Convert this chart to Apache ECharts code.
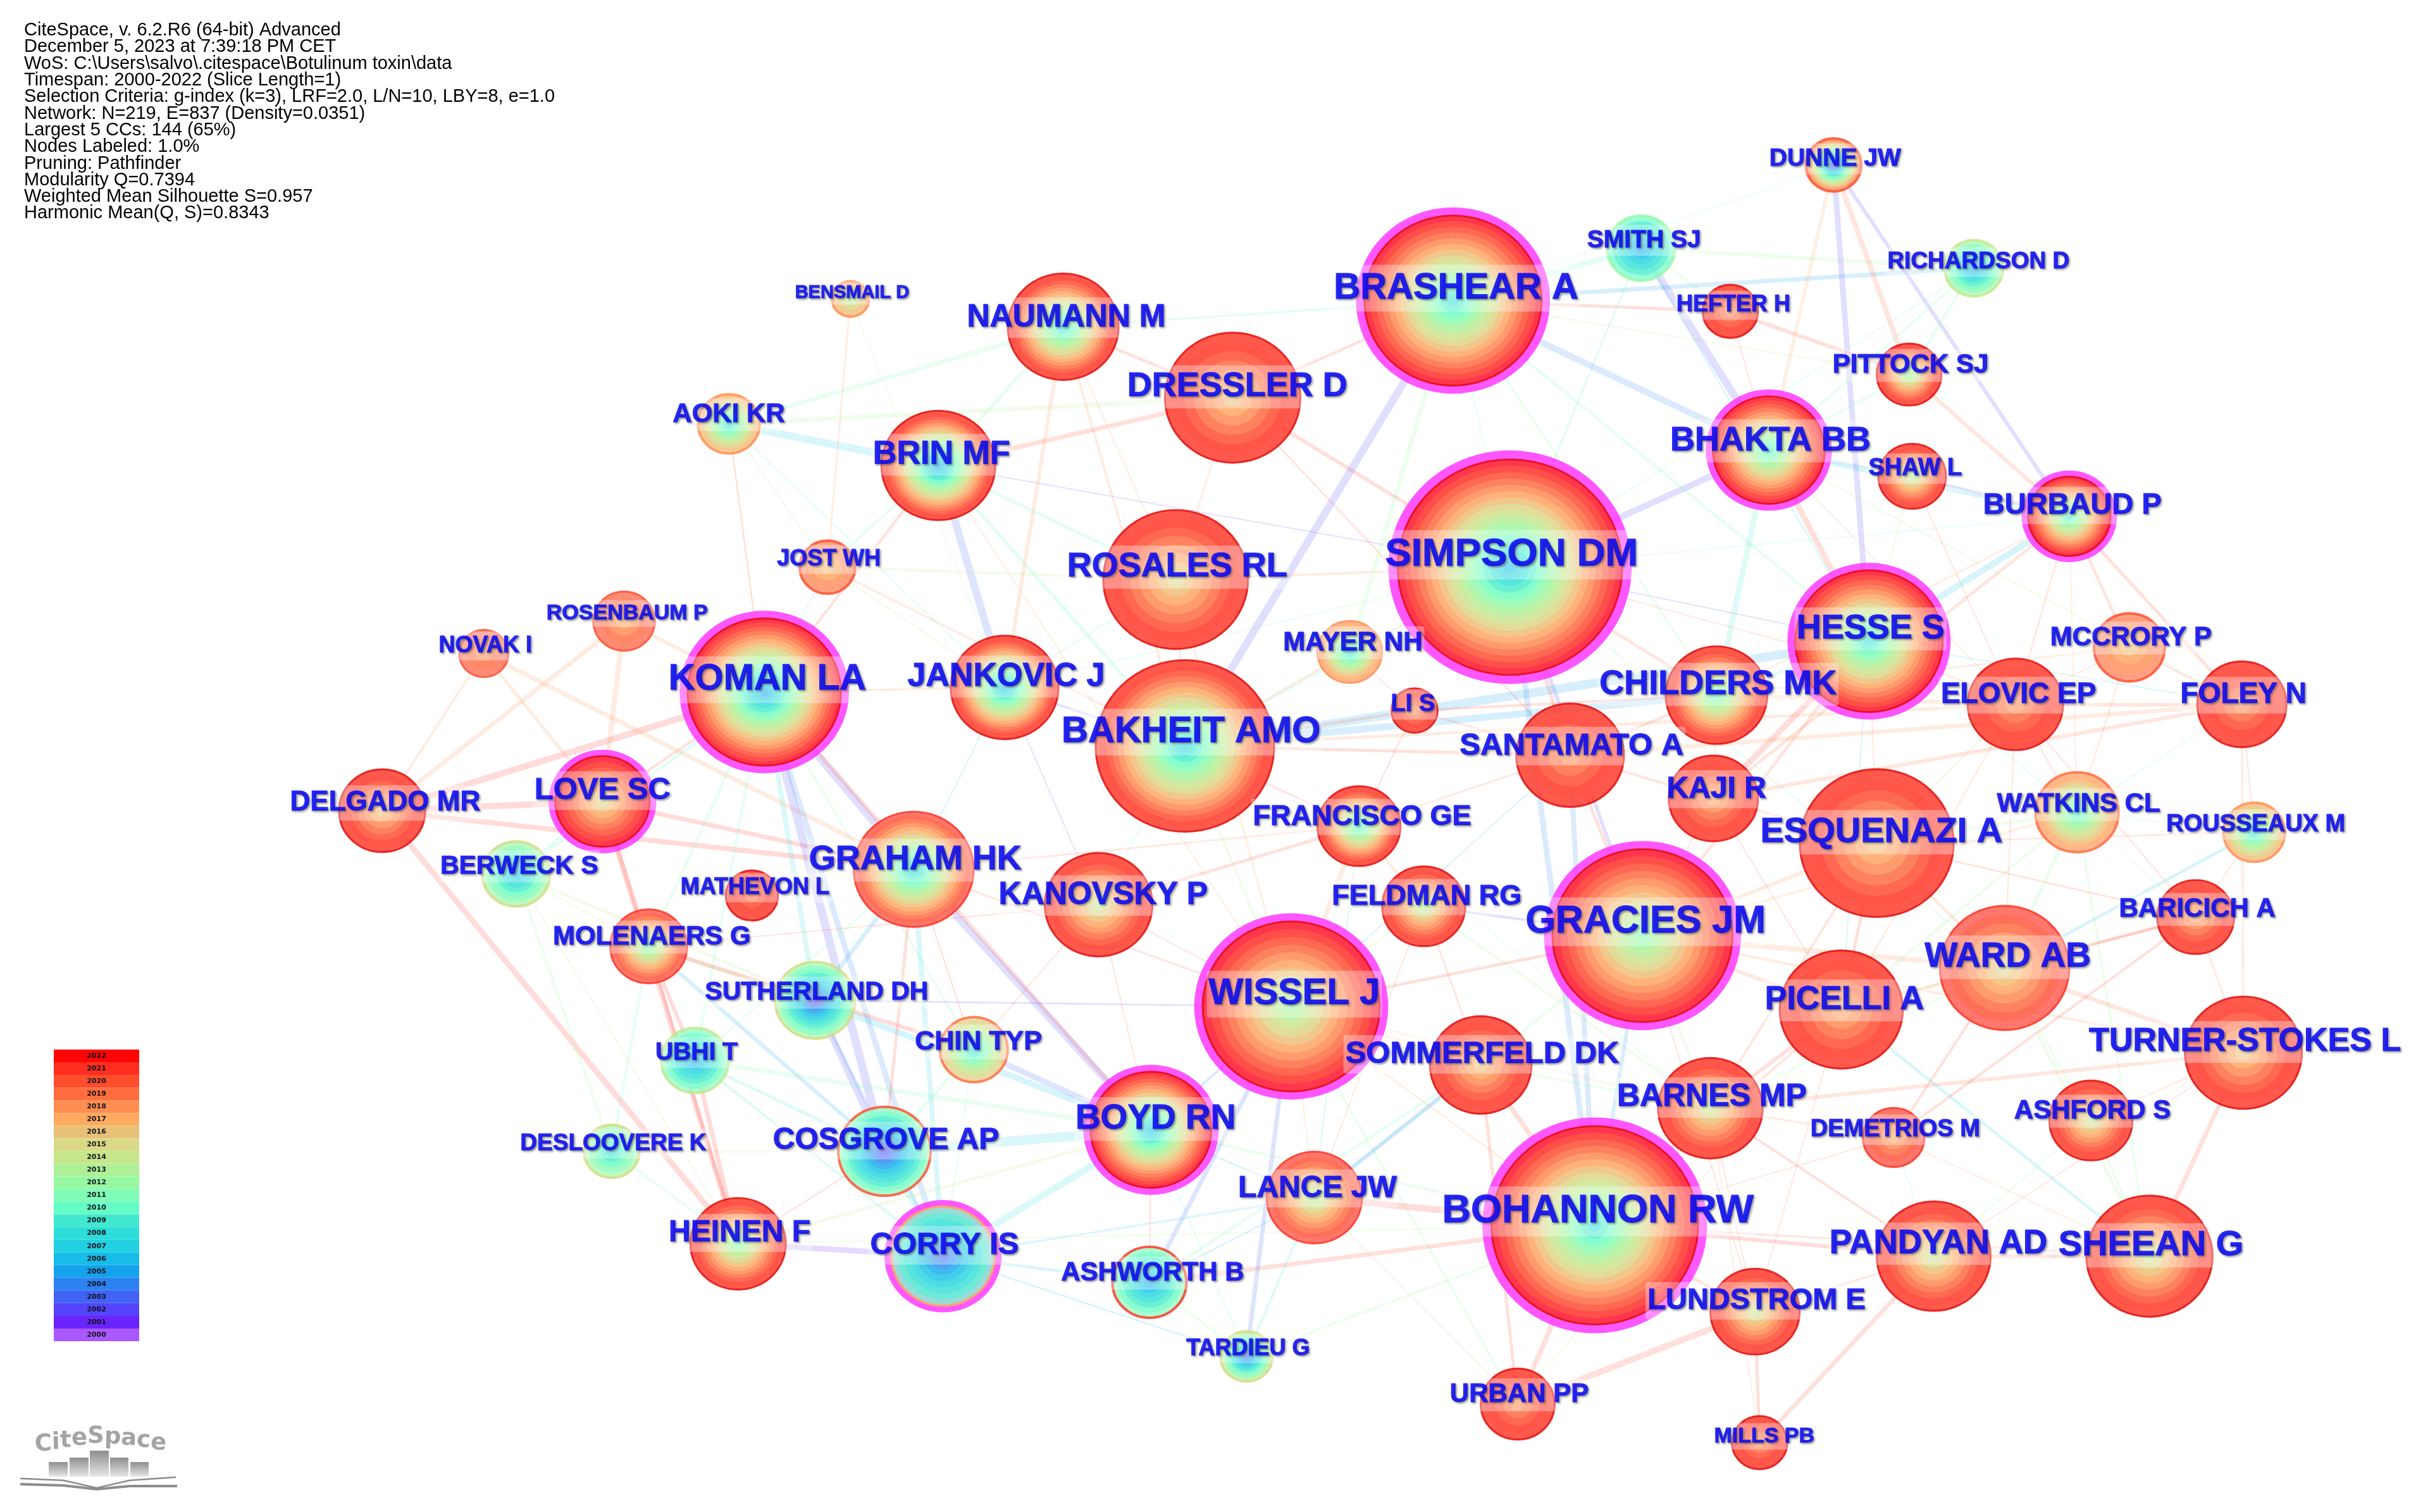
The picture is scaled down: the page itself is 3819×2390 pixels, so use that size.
<!DOCTYPE html>
<html>
<head>
<meta charset="utf-8">
<title>CiteSpace author co-citation network</title>
<script src="https://cdn.jsdelivr.net/npm/echarts@6/dist/echarts.min.js"></script>
<style>
  html, body { margin: 0; padding: 0; background: #fff; }
  #chartContainer { width: 3819px; height: 2390px; }
</style>
</head>
<body>
<div id="chartContainer"></div>
<script>
var infoLines = [
  "CiteSpace, v. 6.2.R6 (64-bit) Advanced",
  "December 5, 2023 at 7:39:18 PM CET",
  "WoS: C:\\Users\\salvo\\.citespace\\Botulinum toxin\\data",
  "Timespan: 2000-2022 (Slice Length=1)",
  "Selection Criteria: g-index (k=3), LRF=2.0, L/N=10, LBY=8, e=1.0",
  "Network: N=219, E=837 (Density=0.0351)",
  "Largest 5 CCs: 144 (65%)",
  "Nodes Labeled: 1.0%",
  "Pruning: Pathfinder",
  "Modularity Q=0.7394",
  "Weighted Mean Silhouette S=0.957",
  "Harmonic Mean(Q, S)=0.8343"
];

var years = [2022,2021,2020,2019,2018,2017,2016,2015,2014,2013,2012,2011,2010,2009,2008,2007,2006,2005,2004,2003,2002,2001,2000];
var yearColors = ["#ff0000","#ff2a1c","#ff4a2a","#ff6a3a","#ff8c4c","#ffa85e","#e8c074","#d8d884","#c6e68a","#acf094","#96f8a0","#7cfcb4","#62fcc4","#3ce8cc","#28dcd8","#1ed0e0","#10bce8","#10a0ec","#2880f0","#3c60f4","#5040fc","#6820fc","#a855ff"];

// nodes (x, y and radius in the units of a 1568 wide plot)
var nodeNames = ["BRASHEAR A","SIMPSON DM","GRACIES JM","WISSEL J","ESQUENAZI A","BAKHEIT AMO","ROSALES RL","DRESSLER D","HESSE S","BHAKTA BB","KOMAN LA","LOVE SC","DELGADO MR","NAUMANN M","BRIN MF","AOKI KR","BENSMAIL D","JOST WH","ROSENBAUM P","NOVAK I","JANKOVIC J","MAYER NH","LI S","CHILDERS MK","SANTAMATO A","KAJI R","FRANCISCO GE","FELDMAN RG","GRAHAM HK","KANOVSKY P","BERWECK S","MATHEVON L","MOLENAERS G","SUTHERLAND DH","UBHI T","CHIN TYP","DESLOOVERE K","COSGROVE AP","BOYD RN","SOMMERFELD DK","LANCE JW","HEINEN F","CORRY IS","ASHWORTH B","TARDIEU G","URBAN PP","MILLS PB","BOHANNON RW","BARNES MP","LUNDSTROM E","PANDYAN AD","SHEEAN G","DEMETRIOS M","PICELLI A","WARD AB","TURNER-STOKES L","ASHFORD S","BARICICH A","ROUSSEAUX M","WATKINS CL","ELOVIC EP","FOLEY N","MCCRORY P","BURBAUD P","SHAW L","PITTOCK SJ","HEFTER H","RICHARDSON D","SMITH SJ","DUNNE JW"];
var nodeX = [943,980,1066,838,1218,769,763,800,1213,1148,496,391,248,690,609,473,552,537,405,314,652,876,918,1114,1019,1112,882,924,593,713,335,488,421,529,451,632,397,574,747,961,853,479,612,746,809,985,1142,1035,1110,1139,1255,1395,1229,1195,1301,1456,1357,1425,1463,1348,1308,1455,1382,1343,1241,1239,1123,1281,1065,1190];
var nodeY = [195,368,607,653,547,484,376,258,416,292,449,520,526,212,302,275,194,368,403,424,446,423,461,451,490,518,536,588,564,587,567,581,614,649,688,681,747,747,733,691,777,807,815,832,880,911,936,795,719,851,815,815,738,655,628,683,727,595,540,527,457,457,420,335,309,243,202,174,161,107];
var nodeR = [63,79,64,63,50,58,47,44,53,41,55,35,28,36,37,20,12,18,20,16,35,21,15,33,35,29,27,27,39,35,22,17,25,26,22,22,18,30,44,33,31,31,38,24,17,24,18,73,34,29,37,41,20,40,42,38,27,25,20,27,31,29,23,31,22,21,18,19,22,18];
var nodeFirst = [2008,2006,2011,2012,2016,2007,2015,2016,2008,2009,2005,2015,2016,2008,2005,2008,2013,2016,2017,2018,2006,2008,2018,2010,2018,2017,2009,2013,2007,2014,2006,2019,2011,2002,2005,2008,2008,2002,2006,2016,2013,2011,2003,2005,2003,2018,2018,2008,2014,2014,2014,2014,2017,2017,2015,2016,2014,2017,2008,2009,2018,2018,2016,2009,2013,2012,2018,2005,2005,2002];
var nodeLast = [2022,2022,2022,2022,2022,2022,2022,2022,2022,2022,2022,2022,2022,2022,2022,2017,2017,2019,2020,2020,2022,2018,2022,2022,2022,2022,2022,2022,2021,2022,2012,2022,2021,2012,2011,2016,2012,2011,2022,2022,2021,2022,2010,2011,2013,2022,2022,2022,2022,2022,2022,2022,2021,2022,2021,2022,2022,2022,2017,2018,2022,2022,2019,2022,2022,2022,2022,2012,2010,2019];
var nodeRim = [2022,2022,2022,2022,2022,2022,2022,2022,2022,2022,2022,2022,2022,2022,2022,2018,2018,2020,2020,2020,2022,2018,2022,2022,2022,2022,2022,2022,2021,2022,2015,2022,2021,2015,2014,2019,2015,2020,2022,2022,2021,2022,2017,2021,2015,2022,2022,2022,2022,2022,2022,2022,2021,2022,2021,2022,2022,2022,2018,2019,2022,2022,2020,2022,2022,2022,2022,2014,2012,2020];
var haloNames = ["BRASHEAR A","SIMPSON DM","GRACIES JM","WISSEL J","HESSE S","BHAKTA BB","KOMAN LA","LOVE SC","BOYD RN","CORRY IS","BOHANNON RW","BURBAUD P"];

// labels sit a little off their node, same order as nodeNames
var labelX = [945,981,1068,840,1221,773,764,803,1214,1149,498,391,250,692,611,473,553,538,407,315,653,878,917,1115,1020,1114,884,926,594,716,337,490,423,530,452,635,398,575,750,962,855,480,613,748,810,986,1145,1037,1111,1140,1258,1396,1230,1197,1303,1457,1358,1426,1464,1349,1310,1456,1383,1345,1243,1240,1125,1284,1067,1191];
var labelY = [187,360,598,645,540,475,368,251,408,286,441,513,521,206,295,269,190,363,398,419,439,417,457,444,484,512,530,582,558,581,562,576,608,644,683,676,742,740,726,684,771,800,808,826,875,905,932,786,712,844,807,808,733,649,621,676,721,590,535,522,451,451,414,328,304,237,198,170,156,103];
var labelSize = [58,62,61,58,56,58,54,54,54,54,58,49,44,50,52,42,29,36,34,36,52,42,38,54,49,48,45,45,54,50,41,36,42,41,39,43,37,48,55,49,48,48,49,42,36,42,34,63,50,47,53,56,38,52,55,52,42,42,38,42,46,46,42,47,38,42,36,37,39,39];

// links: from, to, year of the colour, width
var links = [
  ["DELGADO","HEINEN",2021,9],["DELGADO","KOMAN",2021,10],["DELGADO","LOVE",2021,10],["DELGADO","GRAHAM",2021,8],
  ["LOVE","HEINEN",2021,8],["LOVE","KOMAN",2020,4],["LOVE","MOLENAERS",2020,7],["LOVE","GRAHAM",2021,7],["LOVE","BERWECK",2010,4],
  ["ROSENBAUM","DELGADO",2018,7],["ROSENBAUM","KOMAN",2018,6],["ROSENBAUM","LOVE",2018,8],["NOVAK","DELGADO",2018,4],["NOVAK","GRAHAM",2018,7],["NOVAK","LOVE",2018,5],
  ["KOMAN","GRAHAM",2002,12],["KOMAN","COSGROVE",2002,13],["KOMAN","CORRY",2004,9],["KOMAN","SUTHERLAND",2008,8],["KOMAN","MOLENAERS",2011,5],["KOMAN","UBHI",2010,4],["KOMAN","JANKOVIC",2019,3],["KOMAN","BRIN",2020,4],["KOMAN","BOYD",2020,7],["KOMAN","AOKI",2019,2],["KOMAN","JOST",2009,2],["KOMAN","BERWECK",2010,5],["KOMAN","CHIN",2012,4],
  ["GRAHAM","BOYD",2002,11],["GRAHAM","COSGROVE",2020,5],["GRAHAM","SUTHERLAND",2005,7],["GRAHAM","CORRY",2007,8],["GRAHAM","UBHI",2010,3],["GRAHAM","WISSEL",2020,3],
  ["SUTHERLAND","COSGROVE",2002,10],["SUTHERLAND","BOYD",2006,10],["SUTHERLAND","CORRY",2004,5],["SUTHERLAND","BERWECK",2014,5],["SUTHERLAND","WISSEL",2002,3],["SUTHERLAND","MOLENAERS",2014,7],
  ["COSGROVE","BOYD",2007,15],["COSGROVE","CORRY",2008,9],["COSGROVE","UBHI",2009,5],["COSGROVE","MOLENAERS",2005,6],["COSGROVE","CHIN",2011,5],["COSGROVE","DESLOOVERE",2014,3],
  ["CHIN","BOYD",2003,9],["CHIN","GRAHAM",2021,2],["CHIN","MOLENAERS",2021,6],["CHIN","CORRY",2011,3],
  ["BOYD","CORRY",2008,11],["BOYD","LANCE",2006,3],["BOYD","ASHWORTH",2021,2],["BOYD","WISSEL",2004,4],["BOYD","UBHI",2011,7],["BOYD","TARDIEU",2010,3],
  ["HEINEN","CORRY",2001,9],["HEINEN","COSGROVE",2021,2],["HEINEN","UBHI",2021,7],["HEINEN","MOLENAERS",2021,5],["HEINEN","DESLOOVERE",2011,4],["HEINEN","BOYD",2014,5],
  ["MOLENAERS","UBHI",2021,6],["MOLENAERS","DESLOOVERE",2010,4],["MOLENAERS","BERWECK",2014,3],["BERWECK","DESLOOVERE",2012,4],["BERWECK","HEINEN",2014,3],["UBHI","CORRY",2009,4],
  ["CORRY","TARDIEU",2006,3],["CORRY","ASHWORTH",2006,4],["CORRY","LANCE",2006,3],
  ["ASHWORTH","BOHANNON",2020,7],["ASHWORTH","TARDIEU",2012,4],["ASHWORTH","LANCE",2006,3],["ASHWORTH","WISSEL",2003,7],["ASHWORTH","SOMMERFELD",2011,5],
  ["TARDIEU","WISSEL",2003,7],["TARDIEU","LANCE",2009,4],["TARDIEU","BOHANNON",2012,4],
  ["BRIN","JANKOVIC",2003,12],["BRIN","AOKI",2007,12],["BRIN","NAUMANN",2011,6],["BRIN","DRESSLER",2020,7],["BRIN","ROSALES",2010,5],["BRIN","SIMPSON",2002,2],["BRIN","BAKHEIT",2010,6],["BRIN","JOST",2009,3],["BRIN","WISSEL",2018,2],
  ["AOKI","NAUMANN",2011,7],["AOKI","DRESSLER",2013,7],["AOKI","JOST",2013,3],["AOKI","JANKOVIC",2011,3],["AOKI","KOMAN",2018,2],
  ["BENSMAIL","JOST",2018,3],["BENSMAIL","JANKOVIC",2013,2],["JOST","ROSALES",2014,4],["JOST","BAKHEIT",2019,3],["JOST","JANKOVIC",2015,3],
  ["NAUMANN","JANKOVIC",2018,6],["NAUMANN","DRESSLER",2020,5],["NAUMANN","BRASHEAR",2009,3],["NAUMANN","BAKHEIT",2018,4],["NAUMANN","ROSALES",2017,3],
  ["JANKOVIC","BAKHEIT",2003,4],["JANKOVIC","GRAHAM",2005,2],["JANKOVIC","KANOVSKY",2002,2],["JANKOVIC","ROSALES",2010,3],["JANKOVIC","SIMPSON",2012,3],
  ["DRESSLER","BRASHEAR",2020,4],["DRESSLER","SIMPSON",2020,6],["DRESSLER","ROSALES",2018,3],["DRESSLER","SANTAMATO",2020,3],
  ["ROSALES","SIMPSON",2018,4],["ROSALES","WISSEL",2018,3],["ROSALES","BAKHEIT",2019,3],
  ["SIMPSON","BRASHEAR",2011,3],["SIMPSON","BHAKTA",2002,10],["SIMPSON","BAKHEIT",2010,4],["SIMPSON","HESSE",2002,2],["SIMPSON","GRACIES",2002,6],["SIMPSON","SANTAMATO",2020,6],["SIMPSON","CHILDERS",2019,5],["SIMPSON","BOHANNON",2004,9],["SIMPSON","SMITH",2009,3],["SIMPSON","RICHARDSON",2012,3],["SIMPSON","WARD",2011,3],["SIMPSON","BURBAUD",2010,2],["SIMPSON","MAYER",2017,4],["SIMPSON","ELOVIC",2019,2],
  ["BRASHEAR","BAKHEIT",2002,12],["BRASHEAR","BHAKTA",2004,10],["BRASHEAR","SMITH",2010,9],["BRASHEAR","HEFTER",2020,5],["BRASHEAR","RICHARDSON",2005,7],["BRASHEAR","DUNNE",2011,2],["BRASHEAR","HESSE",2011,5],["BRASHEAR","CHILDERS",2012,4],["BRASHEAR","PITTOCK",2014,3],["BRASHEAR","MAYER",2012,7],
  ["SMITH","BHAKTA",2002,12],["SMITH","RICHARDSON",2012,6],["SMITH","HEFTER",2013,4],["SMITH","HESSE",2007,3],
  ["HEFTER","BHAKTA",2020,2],["HEFTER","PITTOCK",2020,6],["DUNNE","HESSE",2002,9],["DUNNE","PITTOCK",2019,8],["DUNNE","BURBAUD",2002,6],["DUNNE","BHAKTA",2017,6],
  ["RICHARDSON","PITTOCK",2011,5],["RICHARDSON","BHAKTA",2011,4],["PITTOCK","BURBAUD",2019,6],["PITTOCK","BHAKTA",2011,4],
  ["BHAKTA","HESSE",2020,9],["BHAKTA","CHILDERS",2009,9],["BHAKTA","BURBAUD",2007,5],["BHAKTA","SHAW",2005,5],["BHAKTA","ELOVIC",2018,2],["BHAKTA","FOLEY",2013,3],
  ["SHAW","BURBAUD",2003,5],["SHAW","ELOVIC",2020,2],["SHAW","HESSE",2014,3],
  ["BURBAUD","HESSE",2006,10],["BURBAUD","KAJI",2019,5],["BURBAUD","FOLEY",2020,5],["BURBAUD","MCCRORY",2019,5],["BURBAUD","ELOVIC",2019,3],["BURBAUD","WATKINS",2018,2],["BURBAUD","CHILDERS",2018,3],
  ["HESSE","BAKHEIT",2005,14],["HESSE","CHILDERS",2008,6],["HESSE","KAJI",2021,9],["HESSE","ESQUENAZI",2019,2],["HESSE","ELOVIC",2018,4],["HESSE","GRACIES",2019,5],["HESSE","FOLEY",2006,2],["HESSE","WATKINS",2012,3],["HESSE","PICELLI",2006,2],
  ["BAKHEIT","CHILDERS",2005,11],["BAKHEIT","SANTAMATO",2020,5],["BAKHEIT","LI",2019,5],["BAKHEIT","WISSEL",2013,4],["BAKHEIT","FRANCISCO",2020,3],["BAKHEIT","ELOVIC",2018,5],["BAKHEIT","KANOVSKY",2010,3],
  ["MAYER","BAKHEIT",2018,4],["MAYER","LI",2020,2],["LI","SANTAMATO",2020,3],["LI","CHILDERS",2020,4],["LI","FRANCISCO",2021,2],
  ["CHILDERS","SANTAMATO",2020,4],["CHILDERS","ELOVIC",2018,6],["CHILDERS","MCCRORY",2018,3],["CHILDERS","KAJI",2018,3],
  ["SANTAMATO","GRACIES",2020,5],["SANTAMATO","FOLEY",2018,7],["SANTAMATO","BOHANNON",2004,8],["SANTAMATO","KAJI",2019,4],["SANTAMATO","FRANCISCO",2019,3],["SANTAMATO","WISSEL",2005,2],
  ["KAJI","ESQUENAZI",2019,4],["KAJI","GRACIES",2018,3],["KAJI","PICELLI",2020,2],["KAJI","FOLEY",2019,6],
  ["FRANCISCO","KANOVSKY",2020,5],["FRANCISCO","WISSEL",2018,8],["FRANCISCO","FELDMAN",2018,4],["FRANCISCO","BARNES",2012,2],["FRANCISCO","GRAHAM",2019,3],["FRANCISCO","LANCE",2007,2],
  ["FELDMAN","GRACIES",2002,4],["FELDMAN","SOMMERFELD",2020,3],["FELDMAN","LANCE",2019,2],["FELDMAN","BARNES",2013,4],["FELDMAN","WISSEL",2015,3],
  ["KANOVSKY","WISSEL",2020,2],["KANOVSKY","CHIN",2020,2],["KANOVSKY","BOYD",2020,2],["KANOVSKY","MOLENAERS",2020,2],
  ["GRACIES","ESQUENAZI",2018,6],["GRACIES","WARD",2018,8],["GRACIES","PICELLI",2019,6],["GRACIES","BARNES",2013,4],["GRACIES","WISSEL",2020,5],["GRACIES","SOMMERFELD",2012,5],["GRACIES","BOHANNON",2005,6],["GRACIES","TURNER-STOKES",2018,4],["GRACIES","WATKINS",2017,4],["GRACIES","LUNDSTROM",2020,2],
  ["ESQUENAZI","WARD",2019,4],["ESQUENAZI","WATKINS",2013,6],["ESQUENAZI","PICELLI",2020,5],["ESQUENAZI","BARICICH",2020,3],["ESQUENAZI","ROUSSEAUX",2019,3],["ESQUENAZI","BARNES",2019,4],["ESQUENAZI","ELOVIC",2016,3],
  ["WATKINS","ELOVIC",2020,2],["WATKINS","FOLEY",2012,3],["WATKINS","ROUSSEAUX",2012,3],["WATKINS","BARICICH",2014,2],["WATKINS","WARD",2012,6],["WATKINS","PICELLI",2013,5],["WATKINS","SHEEAN",2012,4],
  ["ROUSSEAUX","FOLEY",2020,2],["ROUSSEAUX","BARICICH",2018,3],["ROUSSEAUX","WARD",2006,5],["BARICICH","PICELLI",2019,5],["BARICICH","WARD",2020,4],["BARICICH","TURNER-STOKES",2019,3],["BARICICH","DEMETRIOS",2020,4],
  ["FOLEY","ELOVIC",2019,6],["FOLEY","MCCRORY",2020,3],["FOLEY","TURNER-STOKES",2019,3],["MCCRORY","ELOVIC",2018,3],["MCCRORY","WATKINS",2018,3],
  ["ELOVIC","WARD",2020,2],["ELOVIC","PICELLI",2018,3],["ELOVIC","BARICICH",2020,2],
  ["WARD","PICELLI",2014,4],["WARD","TURNER-STOKES",2019,7],["WARD","BARNES",2011,3],["WARD","DEMETRIOS",2020,4],["WARD","ASHFORD",2012,4],["WARD","SHEEAN",2013,5],
  ["TURNER-STOKES","SHEEAN",2020,7],["TURNER-STOKES","BARNES",2019,6],["TURNER-STOKES","ASHFORD",2018,3],["TURNER-STOKES","PANDYAN",2019,2],
  ["PICELLI","BARNES",2020,6],["PICELLI","BOHANNON",2019,4],["PICELLI","LUNDSTROM",2019,2],["PICELLI","SHEEAN",2007,5],
  ["ASHFORD","SHEEAN",2012,4],["ASHFORD","PANDYAN",2012,3],["DEMETRIOS","BARNES",2019,3],["DEMETRIOS","PANDYAN",2009,2],["DEMETRIOS","BOHANNON",2019,2],["DEMETRIOS","SHEEAN",2018,2],
  ["BARNES","BOHANNON",2019,6],["BARNES","SOMMERFELD",2012,4],["BARNES","PANDYAN",2020,4],["BARNES","LUNDSTROM",2020,2],["BARNES","MILLS",2018,2],
  ["WISSEL","SOMMERFELD",2018,3],["WISSEL","BOHANNON",2018,3],["WISSEL","LANCE",2018,2],["WISSEL","BARNES",2016,3],["WISSEL","URBAN",2012,4],
  ["SOMMERFELD","BOHANNON",2020,8],["SOMMERFELD","LANCE",2004,7],["SOMMERFELD","URBAN",2020,5],
  ["LANCE","BOHANNON",2021,10],["LANCE","URBAN",2017,2],["LANCE","SOMMERFELD",2007,3],
  ["BOHANNON","PANDYAN",2021,6],["BOHANNON","LUNDSTROM",2020,5],["BOHANNON","SHEEAN",2020,3],["BOHANNON","URBAN",2020,8],["BOHANNON","HEINEN",2013,3],["BOHANNON","BOYD",2012,5],
  ["URBAN","LUNDSTROM",2020,10],["URBAN","PICELLI",2016,2],["LUNDSTROM","MILLS",2020,5],["LUNDSTROM","PANDYAN",2020,3],["MILLS","PANDYAN",2020,7],["PANDYAN","SHEEAN",2020,6]
];

var chartDom = document.getElementById("chartContainer");
var myChart = echarts.init(chartDom);

var plotW = 1568, plotH = 981;
var k = chartDom.clientWidth / plotW;

function yearColor(y) { return yearColors[years.indexOf(y)]; }

// node rings look washed compared to the colour bar
function paleColor(y) {
  return echarts.color.lerp(0.2, [yearColor(y), "#ffffff"]);
}

function nodeIndex(key) {
  for (var i = 0; i < nodeNames.length; i++) {
    if (nodeNames[i].split(" ")[0] === key) return i;
  }
  return -1;
}

// links
var linkData = links.map(function (l) {
  var a = nodeIndex(l[0]), b = nodeIndex(l[1]);
  return {
    coords: [[nodeX[a], nodeY[a]], [nodeX[b], nodeY[b]]],
    lineStyle: { color: yearColor(l[2]), width: l[3], opacity: l[3] > 3 ? 0.17 : 0.15 }
  };
});

// one stacked circle per year, outer ring first
var ringData = [];
nodeNames.forEach(function (name, i) {
  var rx = nodeR[i] * k;
  var xy = [nodeX[i], nodeY[i]];
  if (haloNames.indexOf(name) >= 0) {
    ringData.push({ value: xy, symbolSize: [rx * 2, rx * 1.92], itemStyle: { color: "#ff2dff" } });
    rx -= (3 + 0.04 * nodeR[i]) * k;
  }
  var n = nodeLast[i] - nodeFirst[i] + 1;
  for (var y = nodeLast[i]; y >= nodeFirst[i]; y--) {
    var r = rx * (y - nodeFirst[i] + 1) / n;
    var style = { color: y === 2022 ? "#ff3020" : paleColor(y) };
    if (y === nodeLast[i]) {
      style.borderColor = nodeRim[i] === 2022 ? "#e00808" : yearColor(nodeRim[i]);
      style.borderWidth = nodeRim[i] === nodeLast[i] ? 3 : 4;
    }
    ringData.push({ value: xy, symbolSize: [r * 2, r * 1.92], itemStyle: style });
  }
});

var labelData = nodeNames.map(function (name, i) {
  var fs = labelSize[i];
  return {
    value: [labelX[i], labelY[i]],
    label: {
      show: true,
      position: "inside",
      formatter: name,
      color: "#0000ff",
      fontFamily: "Liberation Sans",
      fontWeight: "bold",
      fontSize: fs,
      lineHeight: fs,
      backgroundColor: "rgba(255,255,255,0.42)",
      padding: [Math.round(fs * 0.13), 3],
      borderRadius: 4,
      textBorderColor: "#0000ff",
      textBorderWidth: 1,
      textShadowColor: "rgba(70,70,70,0.65)",
      textShadowBlur: 3,
      textShadowOffsetX: 2,
      textShadowOffsetY: 2
    }
  };
});

// CiteSpace logo in the lower left corner
var logoLetters = "CiteSpace".split("");
var logoX = [55, 82, 95, 113, 138, 165, 191, 216, 238];
var logoY = [2284, 2281, 2278, 2274, 2271, 2272, 2274, 2277, 2281];
var logoGraphics = logoLetters.map(function (c, i) {
  return {
    type: "text", x: logoX[i], y: logoY[i], rotation: (3 - i) * 0.012,
    style: { text: c, fill: "#a4a4a4", font: "bold 37px 'DejaVu Sans'", textVerticalAlign: "middle" }
  };
});
[[77, 2311, 30], [110, 2304, 30], [142, 2293, 30], [174, 2304, 29], [206, 2311, 29]].forEach(function (b) {
  logoGraphics.push({
    type: "rect", shape: { x: b[0], y: b[1], width: b[2], height: 2334 - b[1] },
    style: { fill: new echarts.graphic.LinearGradient(0, 0, 0, 1, [{ offset: 0, color: "#8e8e8e" }, { offset: 1, color: "#e6e6e6" }]) }
  });
});
[[[32, 2337], [100, 2340], [153, 2352], [205, 2340], [278, 2335]], [[32, 2346], [100, 2348], [153, 2354], [205, 2349], [280, 2349]]].forEach(function (p, i) {
  logoGraphics.push({
    type: "polyline", shape: { points: p },
    style: { stroke: "#8c8c8c", lineWidth: i ? 4 : 2.5, fill: null }
  });
});

var option = {
  backgroundColor: "#ffffff",
  animation: false,
  title: {
    text: infoLines.join("\n"),
    left: 38, top: 35,
    padding: 0,
    textStyle: { color: "#000000", fontFamily: "Liberation Sans", fontSize: 29, lineHeight: 26.3, fontWeight: "normal" }
  },
  tooltip: { show: false },
  grid: [
    { left: 0, top: 0, right: 0, bottom: 0 },
    { left: 85, top: 1659, width: 135, height: 461 }
  ],
  xAxis: [
    { type: "value", min: 0, max: plotW, show: false, gridIndex: 0 },
    { type: "value", min: 0, max: 1, show: false, gridIndex: 1 }
  ],
  yAxis: [
    { type: "value", min: 0, max: plotH, inverse: true, show: false, gridIndex: 0 },
    { type: "category", data: years, inverse: true, show: false, gridIndex: 1 }
  ],
  graphic: logoGraphics,
  series: [
    {
      name: "links", type: "lines", coordinateSystem: "cartesian2d", z: 1,
      silent: true, data: linkData
    },
    {
      name: "rings", type: "scatter", symbol: "circle", z: 2, silent: true,
      xAxisIndex: 0, yAxisIndex: 0, data: ringData
    },
    {
      name: "labels", type: "scatter", symbolSize: 1, z: 3, silent: true,
      xAxisIndex: 0, yAxisIndex: 0,
      itemStyle: { color: "transparent" },
      data: labelData, labelLayout: { hideOverlap: false }
    },
    {
      name: "timeline", type: "bar", xAxisIndex: 1, yAxisIndex: 1, barWidth: "100%", silent: true,
      data: years.map(function (y, i) {
        return { value: 1, itemStyle: { color: yearColors[i], opacity: 0.98 } };
      }),
      label: {
        show: true, position: "inside", color: "#10101c", fontSize: 11, fontWeight: "bold",
        fontFamily: "DejaVu Sans",
        formatter: function (p) { return String(years[p.dataIndex]); }
      }
    }
  ]
};

option && myChart.setOption(option);
</script>
</body>
</html>
